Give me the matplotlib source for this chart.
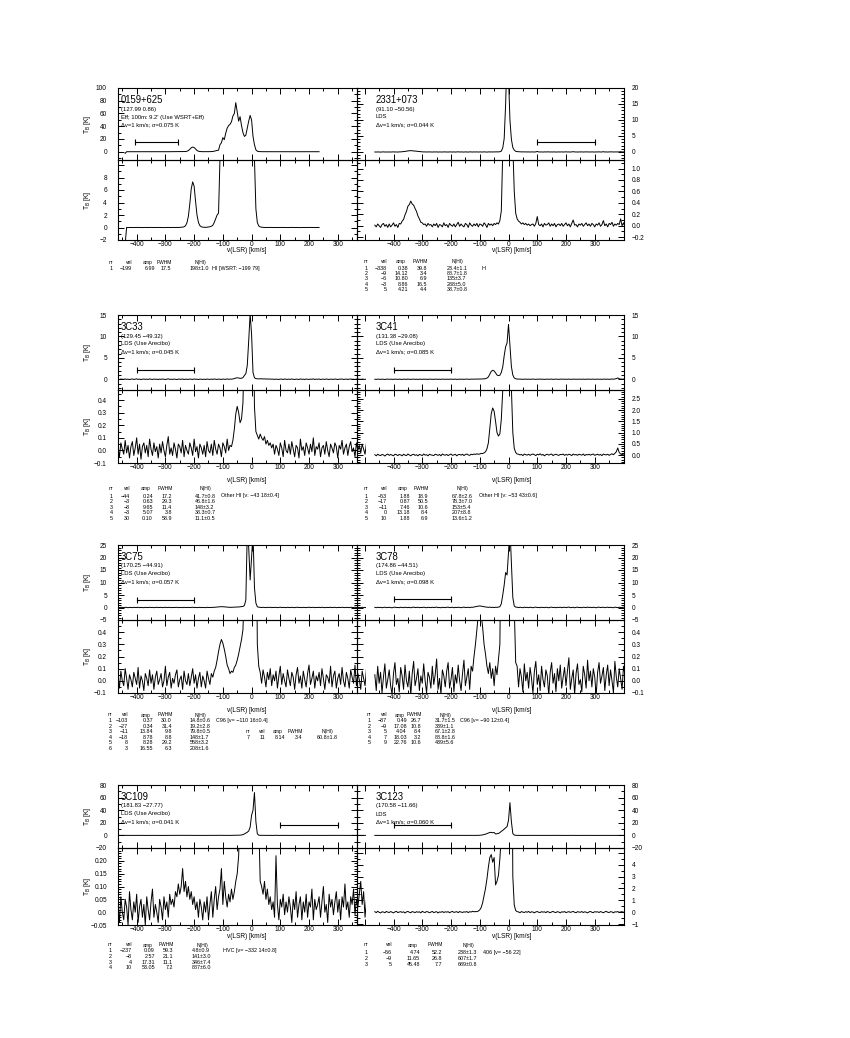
import numpy as np
import matplotlib
matplotlib.use("Agg")
import matplotlib.pyplot as plt
from matplotlib import font_manager as fm
from matplotlib.patches import Rectangle
from matplotlib.ticker import MultipleLocator, FuncFormatter

nan = np.nan

# ---------------- data ----------------
VEL = np.arange(-465, 411, 5)   # velocity channels [km/s]

T_0159 = [
    nan, nan, nan, nan, nan, -2.6, 0.02, -0.02, 0.01, 0.0,
    0.01, -0.01, 0.0, 0.02, -0.01, 0.0, 0.01, -0.02, 0.01, 0.0,
    0.0, 0.01, -0.01, 0.02, 0.0, -0.01, 0.01, 0.0, 0.02, -0.01,
    0.01, 0.0, -0.02, 0.01, 0.0, 0.02, -0.01, 0.0, 0.01, 0.0,
    0.0, 0.01, 0.0, 0.02, 0.03, 0.06, 0.12, 0.28, 0.75, 1.8,
    3.8, 6.2, 7.3, 6.6, 4.2, 2.0, 0.8, 0.3, 0.12, 0.05,
    0.03, 0.02, 0.05, 0.08, 0.12, 0.2, 0.35, 0.8, 1.4, 2.0,
    2.3, 11, 14, 22, 19, 29, 37, 41, 43, 47,
    56, 60, 77, 63, 48, 55, 41, 30, 24, 26,
    37, 48, 57, 50, 24, 11, 3.0, 0.8, 0.25, 0.1,
    0.05, 0.02, 0.0, 0.01, -0.01, 0.0, 0.02, 0.0, -0.01, 0.01,
    0.0, 0.01, 0.0, -0.01, 0.02, 0.0, 0.01, 0.0, -0.01, 0.0,
    0.01, 0.0, 0.02, -0.01, 0.0, 0.01, 0.0, -0.02, 0.01, 0.0,
    0.0, 0.01, -0.01, 0.0, 0.02, 0.0, 0.01, -0.01, 0.0, 0.01,
    0.0, nan, nan, nan, nan, nan, nan, nan, nan, nan,
    nan, nan, nan, nan, nan, nan, nan, nan, nan, nan,
    nan, nan, nan, nan, nan, nan, nan, nan, nan, nan,
    nan, nan, nan, nan, nan, nan]

T_2331 = [
    0.01, -0.02, 0.03, 0.0, -0.03, 0.02, 0.04, -0.01, 0.02, -0.03,
    0.03, -0.02, 0.01, 0.05, -0.01, 0.02, -0.03, 0.04, 0.03, 0.08,
    0.11, 0.19, 0.25, 0.34, 0.37, 0.43, 0.38, 0.36, 0.30, 0.25,
    0.17, 0.12, 0.06, 0.05, 0.02, 0.03, -0.01, 0.04, 0.01, 0.02,
    -0.02, 0.03, 0.0, 0.04, -0.03, 0.02, 0.01, -0.02, 0.05, 0.0,
    0.02, -0.03, 0.04, 0.01, -0.01, 0.03, -0.02, 0.02, 0.06, -0.01,
    0.03, 0.0, -0.02, 0.04, 0.02, -0.03, 0.05, 0.01, -0.01, 0.03,
    0.0, 0.04, -0.02, 0.03, 0.02, -0.01, 0.05, 0.02, -0.03, 0.04,
    0.01, 0.03, 0.0, 0.04, 0.02, 0.05, 0.03, 0.09, 0.26, 1.3,
    4.2, 15.0, 30.5, 23.5, 10.0, 4.0, 1.4, 0.6, 0.22, 0.12,
    0.08, 0.06, 0.03, 0.05, 0.02, 0.04, 0.01, 0.03, 0.0, 0.02,
    0.03, -0.01, 0.04, 0.16, 0.02, 0.0, 0.03, -0.02, 0.04, 0.01,
    0.02, 0.05, -0.01, 0.03, 0.0, 0.04, -0.02, 0.02, 0.03, 0.0,
    0.04, -0.01, 0.02, 0.05, 0.0, 0.03, -0.02, 0.04, 0.10, 0.01,
    0.02, -0.02, 0.03, 0.01, 0.04, -0.01, 0.02, 0.05, 0.0, 0.03,
    -0.01, 0.04, 0.02, -0.02, 0.03, 0.01, 0.05, -0.01, 0.02, 0.09,
    0.0, 0.03, -0.02, 0.04, 0.02, 0.06, -0.01, 0.03, 0.01, 0.04,
    0.02, 0.12, 0.0, 0.05, -0.02, 0.03]

T_3C33 = [
    0.02, -0.05, 0.06, 0.01, -0.03, 0.08, -0.02, 0.04, -0.06, 0.03,
    0.07, -0.04, 0.02, 0.10, -0.03, 0.05, -0.07, 0.03, 0.06, -0.02,
    0.04, -0.05, 0.09, 0.01, -0.04, 0.06, -0.01, 0.03, -0.06, 0.05,
    -0.02, 0.07, 0.0, -0.05, 0.04, 0.11, -0.03, 0.02, -0.04, 0.06,
    0.01, -0.06, 0.05, 0.03, -0.02, 0.08, -0.05, 0.04, 0.0, -0.03,
    0.06, 0.02, -0.04, 0.09, -0.01, 0.03, -0.06, 0.05, 0.02, -0.03,
    0.04, -0.05, 0.07, 0.0, -0.02, 0.05, -0.04, 0.08, 0.01, -0.03,
    0.05, 0.02, -0.05, 0.06, 0.03, -0.02, 0.09, 0.0, 0.04, 0.03,
    0.08, 0.17, 0.29, 0.35, 0.30, 0.22, 0.25, 0.38, 0.9, 1.3,
    3.2, 9.0, 15.3, 10.5, 1.6, 0.35, 0.15, 0.12, 0.09, 0.13,
    0.10, 0.08, 0.11, 0.05, 0.08, 0.04, 0.06, 0.02, 0.05, -0.03,
    0.04, 0.01, -0.04, 0.06, 0.02, -0.05, 0.08, 0.0, -0.02, 0.05,
    -0.03, 0.07, 0.01, -0.05, 0.04, 0.02, -0.06, 0.09, 0.0, 0.03,
    -0.04, 0.06, 0.02, -0.03, 0.05, -0.01, 0.10, -0.04, 0.03, 0.01,
    0.06, -0.05, 0.02, 0.04, -0.03, 0.07, 0.0, -0.05, 0.05, 0.02,
    -0.02, 0.06, 0.03, -0.06, 0.04, 0.01, 0.08, -0.03, 0.02, 0.05,
    -0.04, 0.03, 0.07, -0.01, 0.02, -0.05, 0.06, 0.0, 0.04, -0.02,
    0.05, 0.01, -0.03, 0.06, 0.02, -0.04]

T_3C41 = [
    0.02, -0.03, 0.04, 0.0, -0.02, 0.03, 0.01, -0.04, 0.02, 0.05,
    -0.01, 0.03, 0.0, -0.03, 0.04, 0.02, -0.02, 0.03, 0.01, -0.03,
    0.04, 0.0, -0.02, 0.05, 0.01, -0.03, 0.02, 0.04, -0.01, 0.02,
    -0.03, 0.03, 0.01, -0.02, 0.05, 0.0, 0.02, -0.03, 0.04, 0.01,
    0.0, -0.02, 0.04, 0.02, -0.01, 0.03, -0.03, 0.05, 0.01, 0.0,
    0.03, -0.02, 0.02, 0.05, -0.01, 0.01, 0.04, -0.03, 0.02, 0.03,
    0.0, 0.04, -0.02, 0.03, 0.05, 0.01, -0.01, 0.04, 0.02, 0.05,
    0.03, 0.06, 0.04, 0.05, 0.08, 0.07, 0.10, 0.15, 0.28, 0.55,
    1.2, 1.85, 2.1, 1.95, 1.5, 1.0, 0.85, 0.95, 1.6, 2.9,
    5.5, 7.6, 8.5, 12.8, 8.0, 3.0, 1.0, 0.3, 0.12, 0.05,
    0.04, 0.01, 0.03, -0.02, 0.05, 0.02, 0.0, 0.04, -0.01, 0.03,
    0.05, 0.02, -0.02, 0.04, 0.01, 0.06, 0.0, 0.03, -0.03, 0.02,
    0.04, 0.0, 0.03, 0.05, -0.02, 0.02, 0.04, 0.01, -0.01, 0.03,
    0.02, 0.05, -0.01, 0.03, 0.0, 0.04, 0.02, -0.02, 0.05, 0.01,
    0.03, -0.01, 0.04, 0.02, 0.0, 0.05, -0.02, 0.03, 0.01, 0.04,
    0.0, 0.03, 0.05, -0.01, 0.02, 0.04, 0.0, 0.03, -0.02, 0.05,
    0.02, 0.01, 0.04, -0.01, 0.03, 0.06, 0.02, 0.08, 0.15, 0.32,
    0.12, 0.05, 0.02, 0.06, 0.0, 0.04]

T_3C75 = [
    0.03, -0.06, 0.08, 0.0, -0.04, 0.10, 0.02, -0.07, 0.05, 0.01,
    -0.05, 0.07, 0.02, -0.03, 0.11, -0.06, 0.04, 0.0, -0.08, 0.06,
    0.02, -0.04, 0.09, -0.02, 0.05, -0.07, 0.03, 0.08, -0.03, 0.01,
    0.06, -0.05, 0.0, 0.12, -0.04, 0.03, 0.07, -0.06, 0.02, -0.02,
    0.05, 0.09, -0.05, 0.01, 0.04, -0.07, 0.08, 0.0, -0.03, 0.06,
    -0.04, 0.03, 0.10, -0.02, 0.05, -0.06, 0.02, 0.07, -0.05, 0.04,
    0.0, -0.06, 0.08, 0.02, -0.03, 0.06, 0.03, 0.08, 0.11, 0.17,
    0.24, 0.30, 0.34, 0.31, 0.26, 0.20, 0.13, 0.10, 0.06, 0.08,
    0.07, 0.11, 0.13, 0.17, 0.22, 0.28, 0.34, 0.42, 0.8, 3.0,
    30, 24, 11, 20, 30, 8, 1.8, 0.3, 0.12, 0.07,
    -0.02, 0.09, 0.03, -0.05, 0.07, 0.01, 0.10, -0.04, 0.05, 0.0,
    0.08, -0.06, 0.04, 0.12, -0.03, 0.06, 0.0, -0.05, 0.09, 0.02,
    -0.04, 0.07, 0.03, -0.07, 0.05, 0.11, -0.02, 0.04, -0.06, 0.08,
    0.01, -0.05, 0.06, 0.13, -0.03, 0.02, 0.08, -0.06, 0.04, 0.0,
    0.07, -0.04, 0.10, 0.02, -0.07, 0.05, 0.03, -0.02, 0.12, -0.05,
    0.04, 0.08, -0.06, 0.02, 0.06, -0.03, 0.11, 0.0, -0.05, 0.07,
    0.02, -0.06, 0.09, 0.03, -0.02, 0.13, -0.04, 0.06, 0.01, -0.07,
    0.08, 0.02, -0.04, 0.10, 0.0, 0.05]

T_3C78 = [
    0.05, -0.08, 0.12, -0.02, 0.07, -0.10, 0.03, 0.14, -0.06, 0.01,
    0.09, -0.04, -0.11, 0.06, 0.15, -0.03, 0.02, -0.09, 0.11, 0.04,
    -0.07, 0.13, 0.0, -0.05, 0.08, -0.12, 0.06, 0.16, -0.04, 0.02,
    0.10, -0.08, 0.04, -0.02, 0.14, 0.0, -0.10, 0.07, 0.03, -0.06,
    0.12, -0.03, 0.05, 0.18, -0.07, 0.02, -0.11, 0.09, 0.04, -0.05,
    0.08, 0.15, -0.06, 0.01, 0.11, -0.09, 0.05, -0.02, 0.13, 0.0,
    -0.08, 0.06, 0.17, -0.04, 0.03, 0.10, -0.07, 0.12, 0.08, 0.20,
    0.30, 0.42, 0.55, 0.62, 0.55, 0.44, 0.30, 0.22, 0.12, 0.06,
    0.15, 0.02, 0.10, -0.04, 0.12, 0.05, 0.18, 0.30, 1.5, 5.0,
    9.0, 14, 13, 22, 32, 18, 4.0, 0.6, 0.15, 0.12,
    -0.05, 0.10, 0.03, -0.09, 0.14, 0.0, 0.07, -0.06, 0.11, 0.02,
    -0.10, 0.08, 0.16, -0.03, 0.05, -0.08, 0.12, 0.01, -0.05, 0.09,
    0.04, -0.12, 0.07, 0.15, -0.02, 0.06, -0.09, 0.10, 0.0, 0.13,
    -0.06, 0.03, 0.11, -0.04, 0.08, 0.19, -0.07, 0.02, 0.09, -0.11,
    0.06, 0.14, -0.03, 0.01, -0.09, 0.12, 0.05, -0.06, 0.17, 0.0,
    0.08, -0.05, 0.10, 0.03, -0.12, 0.07, 0.15, -0.02, 0.04, 0.11,
    -0.08, 0.05, 0.13, -0.04, 0.09, 0.0, -0.10, 0.16, 0.03, -0.05,
    0.10, 0.02, -0.07, 0.12, 0.05, -0.03]

T_3C109 = [
    0.03, -0.04, 0.06, 0.0, -0.03, 0.05, 0.02, -0.05, 0.08, 0.01,
    -0.03, 0.04, 0.0, 0.07, -0.04, 0.02, 0.05, -0.02, 0.03, -0.05,
    0.06, 0.01, -0.03, 0.04, 0.09, -0.02, 0.03, 0.0, -0.04, 0.05,
    0.02, -0.03, 0.06, 0.01, 0.04, -0.02, 0.07, 0.03, 0.05, 0.02,
    0.08, 0.06, 0.11, 0.07, 0.10, 0.17, 0.08, 0.12, 0.06, 0.10,
    0.05, 0.08, 0.03, 0.06, 0.01, 0.04, -0.02, 0.05, 0.02, -0.03,
    0.04, 0.0, 0.06, -0.03, 0.03, 0.08, -0.02, 0.05, 0.10, 0.01,
    0.06, 0.09, 0.17, 0.03, 0.12, 0.06, 0.02, 0.07, 0.04, 0.09,
    0.05, 0.08, 0.12, 0.15, 0.22, 0.4, 0.7, 1.3, 2.3, 3.6,
    5.0, 7.0, 13, 32, 40, 68, 22, 2.5, 0.35, 0.12,
    0.10, 0.07, 0.12, 0.05, 0.09, 0.03, 0.06, 0.01, 0.04, -0.02,
    0.22, 0.03, -0.03, 0.05, 0.02, 0.07, -0.01, 0.04, 0.0, 0.06,
    0.02, -0.04, 0.05, 0.01, 0.08, -0.02, 0.03, 0.06, -0.03, 0.04,
    0.0, 0.07, -0.02, 0.04, 0.02, 0.09, -0.03, 0.05, 0.01, 0.03,
    0.06, -0.02, 0.04, 0.10, 0.0, 0.03, -0.04, 0.07, 0.02, 0.05,
    -0.01, 0.04, 0.08, 0.0, 0.05, -0.03, 0.06, 0.02, 0.11, 0.01,
    0.04, -0.02, 0.06, 0.03, 0.09, -0.01, 0.05, 0.02, 0.07, 0.12,
    0.03, 0.08, -0.02, 0.05, 0.01, 0.06]

T_3C123 = [
    0.05, -0.03, 0.08, 0.0, -0.06, 0.04, 0.02, -0.04, 0.07, 0.01,
    -0.02, 0.06, 0.0, -0.05, 0.03, 0.08, -0.03, 0.02, 0.05, -0.01,
    0.04, -0.06, 0.03, 0.07, 0.0, -0.04, 0.06, 0.02, -0.03, 0.05,
    0.0, 0.04, -0.05, 0.08, 0.01, -0.02, 0.06, 0.03, -0.04, 0.02,
    0.07, -0.03, 0.02, 0.05, -0.06, 0.03, 0.0, 0.06, -0.02, 0.04,
    0.01, 0.05, -0.04, 0.03, 0.07, -0.01, 0.02, 0.05, -0.03, 0.06,
    0.02, -0.02, 0.04, 0.01, 0.06, -0.03, 0.05, 0.02, 0.08, 0.04,
    0.06, 0.05, 0.1, 0.2, 0.4, 0.8, 1.4, 2.0, 2.8, 3.8,
    4.6, 4.85, 4.2, 4.6, 2.3, 2.6, 3.1, 4.5, 6.5, 8.0,
    10, 12, 14, 24, 52, 22, 3.0, 0.6, 0.15, 0.05,
    0.03, -0.04, 0.06, 0.01, -0.02, 0.05, 0.0, 0.07, -0.03, 0.04,
    0.02, -0.05, 0.03, 0.06, 0.0, -0.02, 0.05, 0.01, 0.04, -0.03,
    0.06, 0.02, -0.04, 0.03, 0.07, 0.0, -0.02, 0.05, 0.02, -0.05,
    0.04, 0.01, 0.06, -0.03, 0.02, 0.05, -0.01, 0.03, 0.07, 0.0,
    -0.04, 0.05, 0.02, 0.0, 0.06, -0.02, 0.04, 0.01, -0.05, 0.03,
    0.07, 0.0, -0.03, 0.05, 0.02, 0.04, -0.02, 0.06, 0.01, -0.04,
    0.03, 0.08, 0.0, -0.02, 0.05, 0.03, -0.05, 0.04, 0.02, 0.06,
    -0.01, 0.03, 0.05, 0.0, 0.04, 0.02]

SOURCES = ["0159+625", "2331+073", "3C33", "3C41", "3C75", "3C78", "3C109", "3C123"]
SPECTRA = [T_0159, T_2331, T_3C33, T_3C41, T_3C75, T_3C78, T_3C109, T_3C123]
for s in SPECTRA:
    assert len(s) == len(VEL)

INFO = [
    ["(127.99 0.86)", "Eff; 100m: 9.2' (Use WSRT+Eff)", "Δv=1 km/s; σ=0.075 K"],
    ["(91.10 −50.56)", "LDS", "Δv=1 km/s; σ=0.044 K"],
    ["(129.45 −49.32)", "LDS (Use Arecibo)", "Δv=1 km/s; σ=0.045 K"],
    ["(131.38 −29.08)", "LDS (Use Arecibo)", "Δv=1 km/s; σ=0.085 K"],
    ["(170.25 −44.91)", "LDS (Use Arecibo)", "Δv=1 km/s; σ=0.057 K"],
    ["(174.86 −44.51)", "LDS (Use Arecibo)", "Δv=1 km/s; σ=0.098 K"],
    ["(181.83 −27.77)", "LDS (Use Arecibo)", "Δv=1 km/s; σ=0.041 K"],
    ["(170.58 −11.66)", "LDS", "Δv=1 km/s; σ=0.060 K"],
]

# baseline-range bars (v1, v2, T)
BARS = [(-405, -255, 16), (100, 300, 3), (-400, -200, 2.2), (-400, -200, 2.2),
        (-400, -200, 3.2), (-400, -200, 3.3), (100, 300, 16), (-400, -200, 16)]

TABLE_HEAD = ("nr", "vel", "amp", "FWHM", "N(HI)")
TAB_0159 = [("1", "−199", "6.99", "17.5", "198±1.0", "HI [WSRT: −199 79]")]
TAB_2331 = [("1", "−338", "0.38", "39.8", "23.4±1.1", "HI"),
            ("2", "−9", "14.12", "3.4", "88.7±1.8", ""),
            ("3", "−6", "10.80", "6.9", "135±3.7", ""),
            ("4", "−3", "8.86", "16.5", "288±5.0", ""),
            ("5", "5", "4.21", "4.4", "38.7±0.8", "")]
TAB_3C33 = [("1", "−44", "0.24", "17.2", "41.7±0.8", "Other HI [v: −43 18±0.4]"),
            ("2", "−3", "0.63", "29.3", "46.8±1.6", ""),
            ("3", "−8", "9.65", "11.4", "148±3.2", ""),
            ("4", "−3", "5.07", "3.8", "38.3±0.7", ""),
            ("5", "30", "0.10", "58.9", "11.1±0.5", "")]
TAB_3C41 = [("1", "−53", "1.88", "18.9", "67.8±2.6", "Other HI [v: −53 43±0.6]"),
            ("2", "−17", "0.87", "50.5", "78.3±7.0", ""),
            ("3", "−11", "7.46", "10.6", "153±5.4", ""),
            ("4", "0", "13.18", "8.4", "207±8.8", ""),
            ("5", "10", "1.88", "6.9", "13.6±1.2", "")]
TAB_3C75 = [("1", "−103", "0.37", "30.0", "14.8±0.6", "C96 [v= −110 16±0.4]"),
            ("2", "−27", "0.34", "31.4", "19.2±2.8", ""),
            ("3", "−11", "13.84", "9.8", "79.8±0.5", ""),
            ("4", "−18", "8.78", "8.8", "148±1.7", ""),
            ("5", "8", "8.28", "29.2", "558±3.2", ""),
            ("6", "3", "16.55", "6.3", "208±1.6", "")]
TAB_3C75B = [("7", "11", "8.14", "3.4", "60.8±1.8", "")]
TAB_3C78 = [("1", "−87", "0.49", "26.7", "31.7±1.5", "C96 [v= −90 12±0.4]"),
            ("2", "−9", "17.08", "10.8", "339±1.1", ""),
            ("3", "5", "4.04", "8.4", "67.1±2.8", ""),
            ("4", "7", "18.03", "3.2", "88.8±1.6", ""),
            ("5", "9", "22.76", "10.6", "439±5.6", "")]
TAB_3C109 = [("1", "−237", "0.09", "59.3", "4.8±0.9", "HVC [v= −332 14±0.8]"),
             ("2", "−8", "2.57", "21.1", "141±3.0", ""),
             ("3", "4", "17.31", "11.1", "346±7.4", ""),
             ("4", "10", "53.05", "7.2", "887±6.0", "")]
TAB_3C123 = [("1", "−56", "4.74", "52.2", "238±1.3", "406 [v= −56 22]"),
             ("2", "−9", "11.65", "26.8", "607±1.7", ""),
             ("3", "5", "45.48", "7.7", "689±0.8", "")]

# ---------------- style / layout ----------------
names = {f.name for f in fm.fontManager.ttflist}
NARROW = "Liberation Sans Narrow" in names
FONT = "Liberation Sans Narrow" if NARROW else "Liberation Sans"
K = 1.0 if NARROW else 0.84
plt.rcParams["font.family"] = [FONT, "DejaVu Sans"]
plt.rcParams["mathtext.fontset"] = "custom"
plt.rcParams["mathtext.rm"] = FONT
plt.rcParams["mathtext.it"] = FONT
plt.rcParams["axes.unicode_minus"] = True

W, H = 850, 1038
fig = plt.figure(figsize=(W / 100, H / 100), dpi=100)

GROUP_Y = [(88, 160, 240), (315, 390, 463), (545, 620, 693), (785, 848, 925)]
COL_X = [(118, 357), (357, 623.5)]
XLIM = [(-465, 367), (-527, 400)]
TEXT_X = [121, 376]
XLABEL_X = [247, 512]
XLABEL_Y = [251, 481, 711, 936]

# (top ylim, top major, top minor, bottom ylim, bottom major, bottom minor, bottom decimals)
YSPEC = [
    ((-13, 100), 20, 10, (-2, 10.8), 2, 1, 0),
    ((-2.5, 20), 5, 1, (-0.25, 1.15), 0.2, 0.1, 1),
    ((-2.5, 15), 5, 1, (-0.1, 0.48), 0.1, 0.05, 1),
    ((-2.5, 15), 5, 1, (-0.35, 2.9), 0.5, 0.1, 1),
    ((-5, 25), 5, 1, (-0.1, 0.5), 0.1, 0.05, 1),
    ((-5, 25), 5, 1, (-0.1, 0.5), 0.1, 0.05, 1),
    ((-20, 80), 20, 10, (-0.05, 0.25), 0.05, 0.01, 2),
    ((-20, 80), 20, 10, (-1.07, 5.4), 1, 0.5, 0),
]


def make_fmt(dec, hide_above=None):
    def f(v, pos):
        if hide_above is not None and v > hide_above:
            return ""
        if abs(v) < 1e-9:
            return "0" if dec == 0 else "0.0"
        return f"{v:.{dec}f}".replace("-", "−")
    return FuncFormatter(f)


def xfmt(v, pos):
    if v < -450 or v > 350:
        return ""
    return f"{v:.0f}".replace("-", "−")


def ax_at(x0, x1, y0, y1):
    return fig.add_axes([x0 / W, 1 - y1 / H, (x1 - x0) / W, (y1 - y0) / H])


TICK = 5.6 * K
for i, (name, T) in enumerate(zip(SOURCES, SPECTRA)):
    col, grp = i % 2, i // 2
    x0, x1 = COL_X[col]
    yt, ym, yb = GROUP_Y[grp]
    tlim, tmaj, tmin, blim, bmaj, bmin, bdec = YSPEC[i]
    axt = ax_at(x0, x1, yt, ym)
    axb = ax_at(x0, x1, ym, yb)
    bhide = blim[1] - 0.07 * (blim[1] - blim[0])
    for ax, lim, maj, mn, dec, hide in ((axt, tlim, tmaj, tmin, 0, None),
                                        (axb, blim, bmaj, bmin, bdec, bhide)):
        ax.set_xlim(*XLIM[col])
        ax.set_ylim(*lim)
        line, = ax.plot(VEL, T, color="black", lw=0.7)
        if col == 0:
            rect = Rectangle((XLIM[0][0], lim[0]), 400 - XLIM[0][0], lim[1] - lim[0],
                             transform=ax.transData, facecolor="none", edgecolor="none")
            line.set_clip_path(rect)
        ax.xaxis.set_major_locator(MultipleLocator(100))
        ax.xaxis.set_minor_locator(MultipleLocator(50))
        ax.xaxis.set_major_formatter(FuncFormatter(xfmt))
        ax.yaxis.set_major_locator(MultipleLocator(maj))
        ax.yaxis.set_minor_locator(MultipleLocator(mn))
        ax.yaxis.set_major_formatter(make_fmt(dec, hide))
        ax.tick_params(which="both", direction="in", top=True, right=True,
                       labelsize=TICK, width=0.7)
        ax.tick_params(which="major", length=4.0)
        ax.tick_params(which="minor", length=2.0)
        ax.tick_params(axis="x", labelbottom=(ax is axb), pad=0.5)
        if col == 0:
            ax.tick_params(axis="y", labelleft=True, labelright=False, pad=8)
        else:
            ax.tick_params(axis="y", labelleft=False, labelright=True, pad=6)
        for sp in ax.spines.values():
            sp.set_linewidth(0.8)
        ax.patch.set_alpha(0)
        if col == 0:
            ax.set_ylabel(r"T$_\mathrm{B}$ [K]", fontsize=5.8 * K, labelpad=2)
            ax.yaxis.set_label_coords(-(x0 - 93) / (x1 - x0), 0.5)

    # baseline-range bar
    v1, v2, yb_ = BARS[i]
    axt.plot([v1, v2], [yb_, yb_], color="black", lw=0.8)
    axt.plot([v1, v2], [yb_, yb_], ls="none", marker="|", ms=4, mew=0.8, color="black")

    # info text
    tx = TEXT_X[col]
    fig.text(tx / W, 1 - (yt + 12) / H, name, fontsize=8.2 * K, va="center", ha="left")
    for j, s in enumerate(INFO[i]):
        fig.text(tx / W, 1 - (yt + 21 + 8 * j) / H, s, fontsize=5.0 * K,
                 va="center", ha="left")

    fig.text(XLABEL_X[col] / W, 1 - XLABEL_Y[grp] / H, "v(LSR) [km/s]",
             fontsize=5.6 * K, ha="center", va="center")

# ---------------- fit tables ----------------
TABLES = [
    (TAB_0159, (113, 132, 155, 171, 190, 212), 262.7, [268.3]),
    (TAB_2331, (368, 387, 408, 427, 447, 481), 261.7, [268.3, 273.5, 278.8, 284.0, 289.2]),
    (TAB_3C33, (113, 130, 153, 172, 195, 221), 488.3, [496.0, 501.7, 507.3, 513.0, 518.7]),
    (TAB_3C41, (368, 387, 410, 428, 452, 479), 488.3, [496.0, 501.7, 507.3, 513.0, 518.7]),
    (TAB_3C75, (112, 128, 153, 172, 190, 216), 715.0, [720.7, 726.2, 731.7, 737.2, 742.7, 748.2]),
    (TAB_3C75B, (250, 265, 285, 302, 317, 345), 731.7, [737.2]),
    (TAB_3C78, (371, 387, 407, 421, 435, 460), 715.0, [720.7, 726.2, 731.7, 737.2, 742.7]),
    (TAB_3C109, (112, 132, 155, 173, 192, 223), 945.0, [950.7, 956.3, 962.0, 967.5]),
    (TAB_3C123, (368, 392, 420, 442, 458, 483), 945.0, [952.7, 958.3, 964.0]),
]
TFS = 4.6 * K
HFS = 4.3 * K
for rows, xs, yh, ys in TABLES:
    xr_nr, xr_vel, xr_amp, xr_fw, xl_n, xl_c = xs
    for txt, xx, ha in zip(TABLE_HEAD, (xr_nr, xr_vel, xr_amp - 2, xr_fw + 1, xl_n + 5),
                           ("right", "right", "right", "right", "left")):
        fig.text(xx / W, 1 - yh / H, txt, fontsize=HFS, ha=ha, va="center")
    for r, y in zip(rows, ys):
        nr, vel, amp, fw, nh, com = r
        for txt, xx, ha in ((nr, xr_nr, "right"), (vel, xr_vel, "right"),
                            (amp, xr_amp, "right"), (fw, xr_fw, "right"),
                            (nh, xl_n, "left"), (com, xl_c, "left")):
            if txt:
                fig.text(xx / W, 1 - y / H, txt, fontsize=TFS, ha=ha, va="center")

fig.savefig("out.png", dpi=100, facecolor="white")
